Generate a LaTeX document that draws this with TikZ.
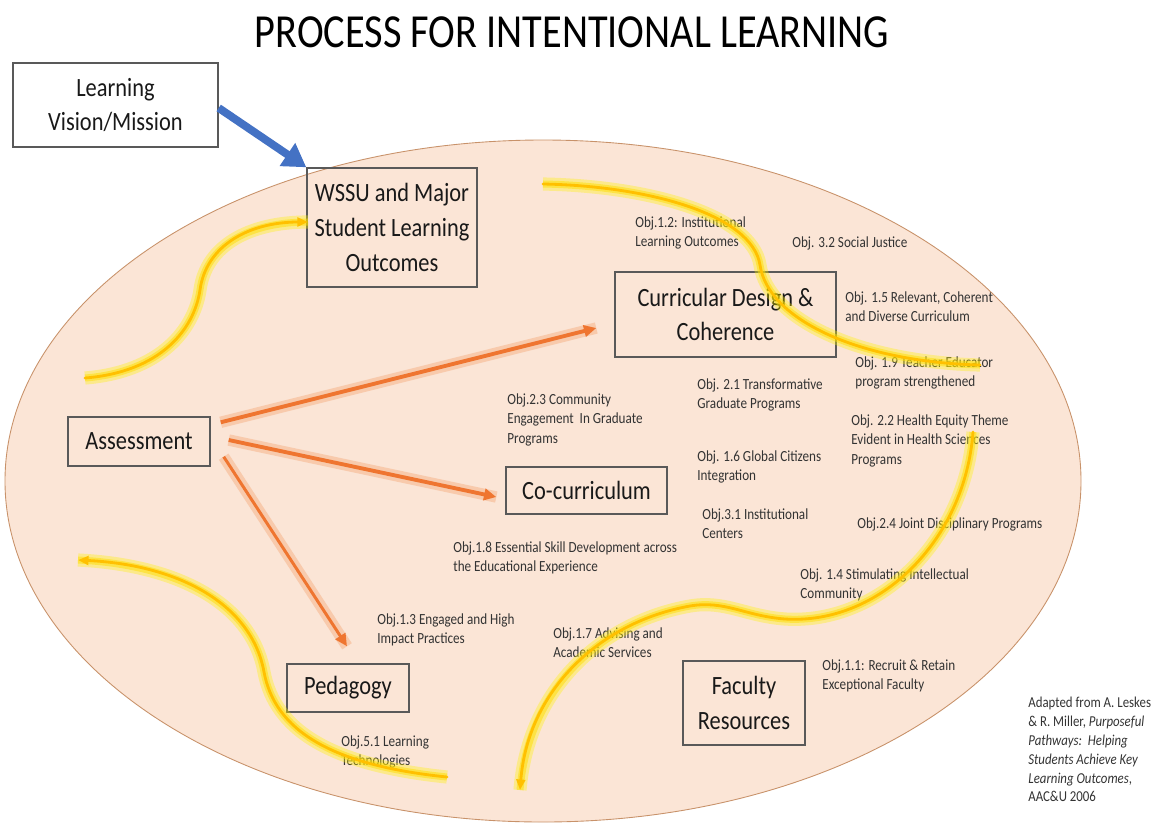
\documentclass[tikz,border=0pt]{standalone}
\usepackage{fontspec}
\setmainfont{Carlito}[FakeStretch=0.85]
\usetikzlibrary{arrows.meta}
\definecolor{peach}{HTML}{FBE5D6}
\definecolor{peachline}{HTML}{C8926A}
\definecolor{boxline}{HTML}{595959}
\definecolor{objgray}{HTML}{333333}
\definecolor{glowyellow}{HTML}{FFF200}
\definecolor{coreyellow}{HTML}{FFC000}
\definecolor{arroworange}{HTML}{EF7530}
\definecolor{gloworange}{HTML}{F6B48A}
\definecolor{visionblue}{HTML}{4472C4}
\newcommand{\pxl}{0.02cm}
\newcommand{\boxfont}{\fontsize{15}{19.8}\selectfont}
\newcommand{\objfont}{\fontsize{8.8}{11.3}\selectfont}

\begin{document}
\begin{tikzpicture}[x=0.02cm, y=-0.02cm,
    stagebox/.style={draw=boxline, line width=0.8pt, inner sep=0pt, align=center, font=\boxfont, text=black!90},
    obj/.style={anchor=north west, inner sep=0pt, align=left, font=\objfont, text=objgray},
    flow/.style={line width=1.6pt, coreyellow, line cap=round,
      preaction={draw, -, line width=7.5pt, glowyellow, opacity=0.35},
      preaction={draw, -, line width=4pt, glowyellow!60!coreyellow, opacity=0.5}},
    flowtip/.style={-{Triangle[length=6pt,width=5pt]}},
    feed/.style={line width=2.2pt, arroworange, -{Triangle[length=7pt,width=6.5pt]},
      preaction={draw, -, line width=6.5pt, gloworange, opacity=0.55}}
  ]
  \useasboundingbox (0,0) rectangle (1152,829);
  \draw[fill=peach, draw=peachline, line width=0.5pt] (543,481) ellipse [x radius=538, y radius=341];

  \node[font=\fontsize{27}{32}\selectfont, text=black] (title) at (572,32) {PROCESS FOR INTENTIONAL LEARNING};

  \node[stagebox, fill=white, minimum width=205*\pxl, minimum height=84*\pxl] (vision) at (115.5,105) {Learning\\Vision/Mission};
  \node[stagebox, minimum width=170*\pxl, minimum height=119*\pxl] (wssu) at (392,227.5) {WSSU and Major\\Student Learning\\Outcomes};
  \node[stagebox, minimum width=221*\pxl, minimum height=85*\pxl] (curr) at (725.5,314.5) {Curricular Design \&\\Coherence};
  \node[stagebox, minimum width=142*\pxl, minimum height=49*\pxl] (assess) at (139,441.5) {Assessment};
  \node[stagebox, minimum width=161*\pxl, minimum height=47*\pxl] (cocurr) at (586.5,490.5) {Co-curriculum};
  \node[stagebox, minimum width=122*\pxl, minimum height=48*\pxl] (ped) at (348,688) {Pedagogy};
  \node[stagebox, minimum width=122*\pxl, minimum height=84*\pxl] (fac) at (744,703) {Faculty\\Resources};

  \node[obj] (o12) at (635,216) {Obj.1.2: Institutional\\Learning Outcomes};
  \node[obj] (o32) at (792,236) {Obj. 3.2 Social Justice};
  \node[obj] (o15) at (845,291) {Obj. 1.5 Relevant, Coherent\\and Diverse Curriculum};
  \node[obj] (o19) at (855,356) {Obj. 1.9 Teacher Educator\\program strengthened};
  \node[obj] (o21) at (697,378) {Obj. 2.1 Transformative\\Graduate Programs};
  \node[obj] (o23) at (507,393) {Obj.2.3 Community\\Engagement\ \ In Graduate\\Programs};
  \node[obj] (o22) at (851,414) {Obj. 2.2 Health Equity Theme\\Evident in Health Sciences\\Programs};
  \node[obj] (o16) at (697,450) {Obj. 1.6 Global Citizens\\Integration};
  \node[obj] (o31) at (702,508) {Obj.3.1 Institutional\\Centers};
  \node[obj] (o24) at (857,517) {Obj.2.4 Joint Disciplinary Programs};
  \node[obj] (o18) at (453,541) {Obj.1.8 Essential Skill Development across\\the Educational Experience};
  \node[obj] (o14) at (800,568) {Obj. 1.4 Stimulating Intellectual\\Community};
  \node[obj] (o13) at (377,613) {Obj.1.3 Engaged and High\\Impact Practices};
  \node[obj] (o17) at (553,627) {Obj.1.7 Advising and\\Academic Services};
  \node[obj] (o11) at (822,659) {Obj.1.1: Recruit \& Retain\\Exceptional Faculty};
  \node[obj] (o51) at (341,735) {Obj.5.1 Learning\\Technologies};
  \node[obj, font=\fontsize{8.6}{10.7}\selectfont] (source) at (1028,697) {Adapted from A. Leskes\\\& R. Miller, \textit{Purposeful}\\\textit{Pathways:\ \ Helping}\\\textit{Students Achieve Key}\\\textit{Learning Outcomes},\\AAC\&U 2006};

  \draw[feed] ([shift={(10,6)}]assess.north east) -- ([shift={(-18,13.5)}]curr.west);
  \draw[feed] ([shift={(18,-1.5)}]assess.east) -- ([shift={(-9,6.5)}]cocurr.west);
  \draw[feed, line width=1.7pt] ([shift={(13,-10)}]assess.south east) -- ([shift={(-1,-17)}]ped.north);

  \draw[flow, flowtip] (85,378) .. controls (160,372) and (194,330) .. (200,290) .. controls (206,245) and (250,222) .. (308,222);
  \draw[flow] (543,184) .. controls (650,186) and (752,215) .. (760,265) .. controls (768,320) and (860,362) .. (980,365);
  \draw[flow, flowtip] (973,432) .. controls (965,540) and (880,625) .. (785,619) .. controls (745,616) and (725,600) .. (690,606) .. controls (600,622) and (528,690) .. (520,790);
  \draw[flow, flowtip] (447,777) .. controls (330,765) and (275,730) .. (264,672) .. controls (252,605) and (180,565) .. (78,560);

  \draw[visionblue, line width=4.5pt, -{Triangle[length=13pt,width=15pt]}] ([shift={(0,3)}]vision.east) -- (wssu.north west);
\end{tikzpicture}
\end{document}
